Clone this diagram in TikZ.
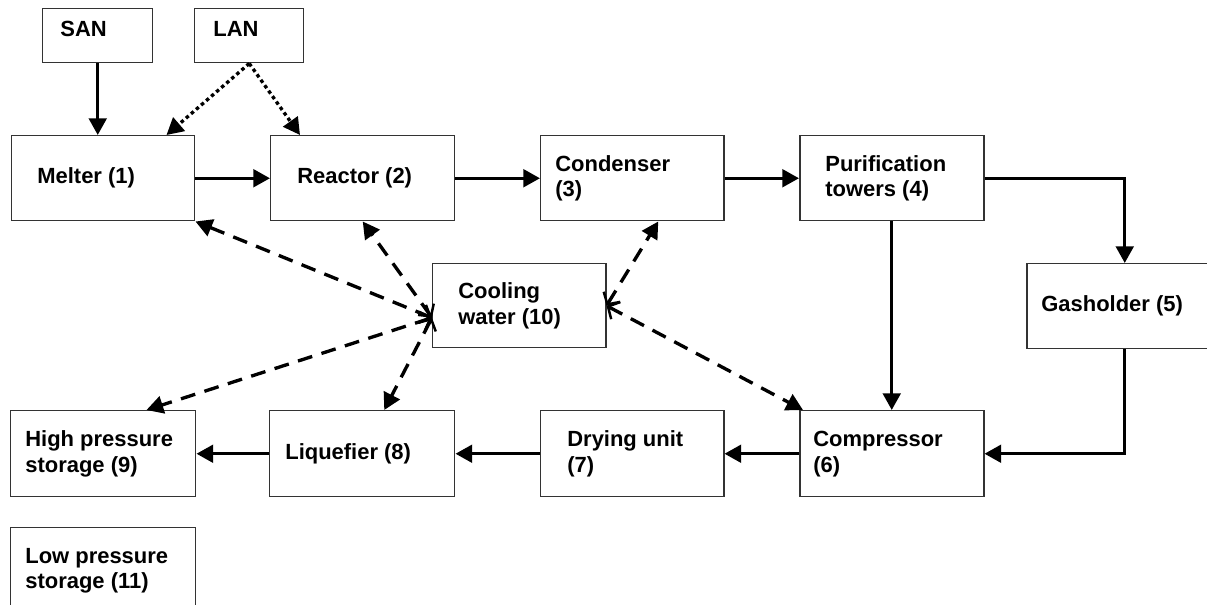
\documentclass[tikz,border=0pt]{standalone}
\usepackage{fontspec}
\setmainfont{Liberation Sans}
\usetikzlibrary{arrows.meta}

\newdimen\pxu \pxu=0.02cm

\tikzset{
  unitbox/.style={draw=black!80, line width=0.85pt, rectangle, inner sep=0pt, anchor=north west},
  unittext/.style={anchor=west, align=left, inner sep=0pt, font=\fontsize{12.5}{14.7}\selectfont\bfseries},
  flow/.style={line width=1.9pt, -{Triangle[length=9.5pt, width=10pt]}},
  feed/.style={flow, dash pattern=on 2pt off 1.8pt},
  water/.style={line width=1.9pt, dash pattern=on 8.5pt off 5.5pt,
    {Straight Barb[length=5pt, width=11pt, line width=1.4pt]}-{Triangle[length=9.5pt, width=10pt]}},
}

% box with its text set in from the left edge
\newcommand{\unitbox}[8][]{%
  \node[unitbox, minimum width=#5*\pxu, minimum height=#6*\pxu] (#2) at (#3,#4) {};
  \node[unittext, #1] (#2-txt) at ([xshift=#7*\pxu]#2.west) {#8};
}

\begin{document}
\begin{tikzpicture}[x=0.02cm, y=-0.02cm]
\useasboundingbox (0,0) rectangle (1207,605);

% units
\unitbox[yshift=7*\pxu]{san}{42}{8}{110}{54}{18}{SAN}
\unitbox[yshift=7*\pxu]{lan}{194}{8}{109}{54}{19}{LAN}
\unitbox{melter}{11}{135}{183}{85}{26}{Melter (1)}
\unitbox{reactor}{270}{135}{184}{85}{27}{Reactor (2)}
\unitbox{condenser}{540}{135}{183}{85}{15}{Condenser\\(3)}
\unitbox{purif}{799}{135}{184}{85}{26}{Purification\\towers (4)}
\unitbox{gasholder}{1026}{263}{196}{85}{15}{Gasholder (5)}
\unitbox{cooling}{432}{263}{173}{84}{26}{Cooling\\water (10)}
\unitbox{compressor}{799}{410}{184}{86}{14}{Compressor\\(6)}
\unitbox{drying}{540}{410}{183}{86}{27}{Drying unit\\(7)}
\unitbox{liquefier}{269}{410}{185}{86}{16}{Liquefier (8)}
\unitbox{hps}{10}{410}{185}{86}{15}{High pressure\\storage (9)}
\unitbox{lps}{10}{527}{185}{86}{15}{Low pressure\\storage (11)}

% main gas line
\draw[flow] (san.south) -- (san.south |- melter.north);
\draw[feed] (lan.south) -- ([xshift=-29*\pxu]melter.north east);
\draw[feed] (lan.south) -- ([xshift=30*\pxu]reactor.north west);
\draw[flow] (melter.east) -- (reactor.west);
\draw[flow] (reactor.east) -- (condenser.west);
\draw[flow] (condenser.east) -- (purif.west);
\draw[flow] (purif.east) -| (gasholder.north);
\draw[flow] (purif.south) -- (compressor.north);
\draw[flow] (gasholder.south) |- (compressor.east);
\draw[flow] (compressor.west) -- (drying.east);
\draw[flow] (drying.west) -- (liquefier.east);
\draw[flow] (liquefier.west) -- (hps.east);

% cooling water
\coordinate (cw-in) at ([yshift=-12*\pxu]cooling.west);
\draw[water] (cw-in) -- (melter.south east);
\draw[water] (cw-in) -- (reactor.south);
\draw[water] (cw-in) -- ([xshift=-50*\pxu]hps.north east);
\draw[water] (cw-in) -- ([xshift=22*\pxu]liquefier.north);
\draw[water] (cooling.east) -- ([xshift=26*\pxu]condenser.south);
\draw[water] (cooling.east) -- ([xshift=4*\pxu]compressor.north west);
\end{tikzpicture}
\end{document}
